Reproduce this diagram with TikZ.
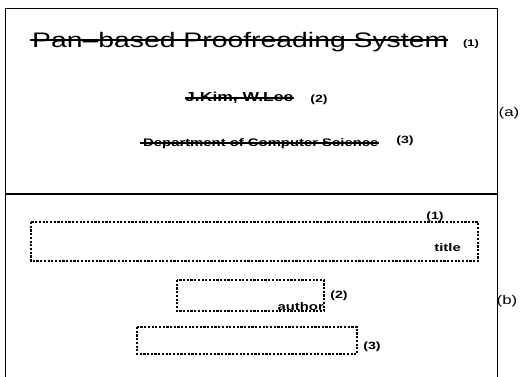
\documentclass[tikz,border=0pt]{standalone}
\usepackage{fontspec}
\setmainfont{Liberation Sans}[FakeStretch=1.35]
\usetikzlibrary{positioning}

\begin{document}
\begin{tikzpicture}[
    x=1pt, y=-1pt,
    struck/.style={inner sep=0pt, anchor=base west},
    strike/.style={line width=1.3pt},
    tag/.style={font=\bfseries\fontsize{10.5}{11}\selectfont, inner sep=0pt},
    side/.style={font=\fontsize{12.5}{13}\selectfont, inner sep=0pt},
    field/.style={draw, line width=1.3pt, dash pattern=on 2.2pt off 1.5pt},
    fieldname/.style={font=\bfseries\fontsize{11}{12}\selectfont, inner sep=0pt}
]
\useasboundingbox (0,0) rectangle (525,377);

% === PRINTED PAGE (a) ===
\draw[line width=0.8pt] (5,377) -- (5,8) -- (497,8) -- (497,377);
\draw[line width=1.4pt] (5,194) -- (497,194);

% title, authors, affiliation (struck out)
\node[struck, font=\fontsize{21}{22}\selectfont] (title) at (32,48) {Pan--based Proofreading System};
\draw[strike] ([xshift=-2pt,yshift=8pt]title.base west) -- ([yshift=8pt]title.base east);
\node[tag, font=\bfseries\fontsize{9.5}{10}\selectfont] (t1) at (471,44) {(1)};

\node[struck, font=\bfseries\fontsize{13}{14}\selectfont] (author) at (185,102) {J.Kim, W.Lee};
\draw[strike] ([yshift=4pt]author.base west) -- ([yshift=4pt]author.base east);
\node[tag] (t2) at (319,100) {(2)};

\node[struck, font=\bfseries\fontsize{11}{12}\selectfont] (dept) at (143,147) {Department of Computer Science};
\draw[strike] ([xshift=-3pt,yshift=4pt]dept.base west) -- ([yshift=4pt]dept.base east);
\node[tag] (t3) at (405,141) {(3)};

\node[side] (a) at (509,113) {(a)};

% === FIELD LAYOUT (b) ===
\draw[field] (31,222) rectangle (478,261);
\node[tag, anchor=south] (b1) at (435,222) {(1)};
\node[fieldname, anchor=base east] (ftitle) at (461,251) {title};

\draw[field] (177,280) rectangle (324,311);
\node[fieldname, anchor=base east] (fauthor) at (324,310) {author};
\node[tag] (b2) at (339,296) {(2)};

\draw[field] (137,327) rectangle (357,354);
\node[tag] (b3) at (372,347) {(3)};

\node[side] (b) at (507,301) {(b)};

\end{tikzpicture}
\end{document}
